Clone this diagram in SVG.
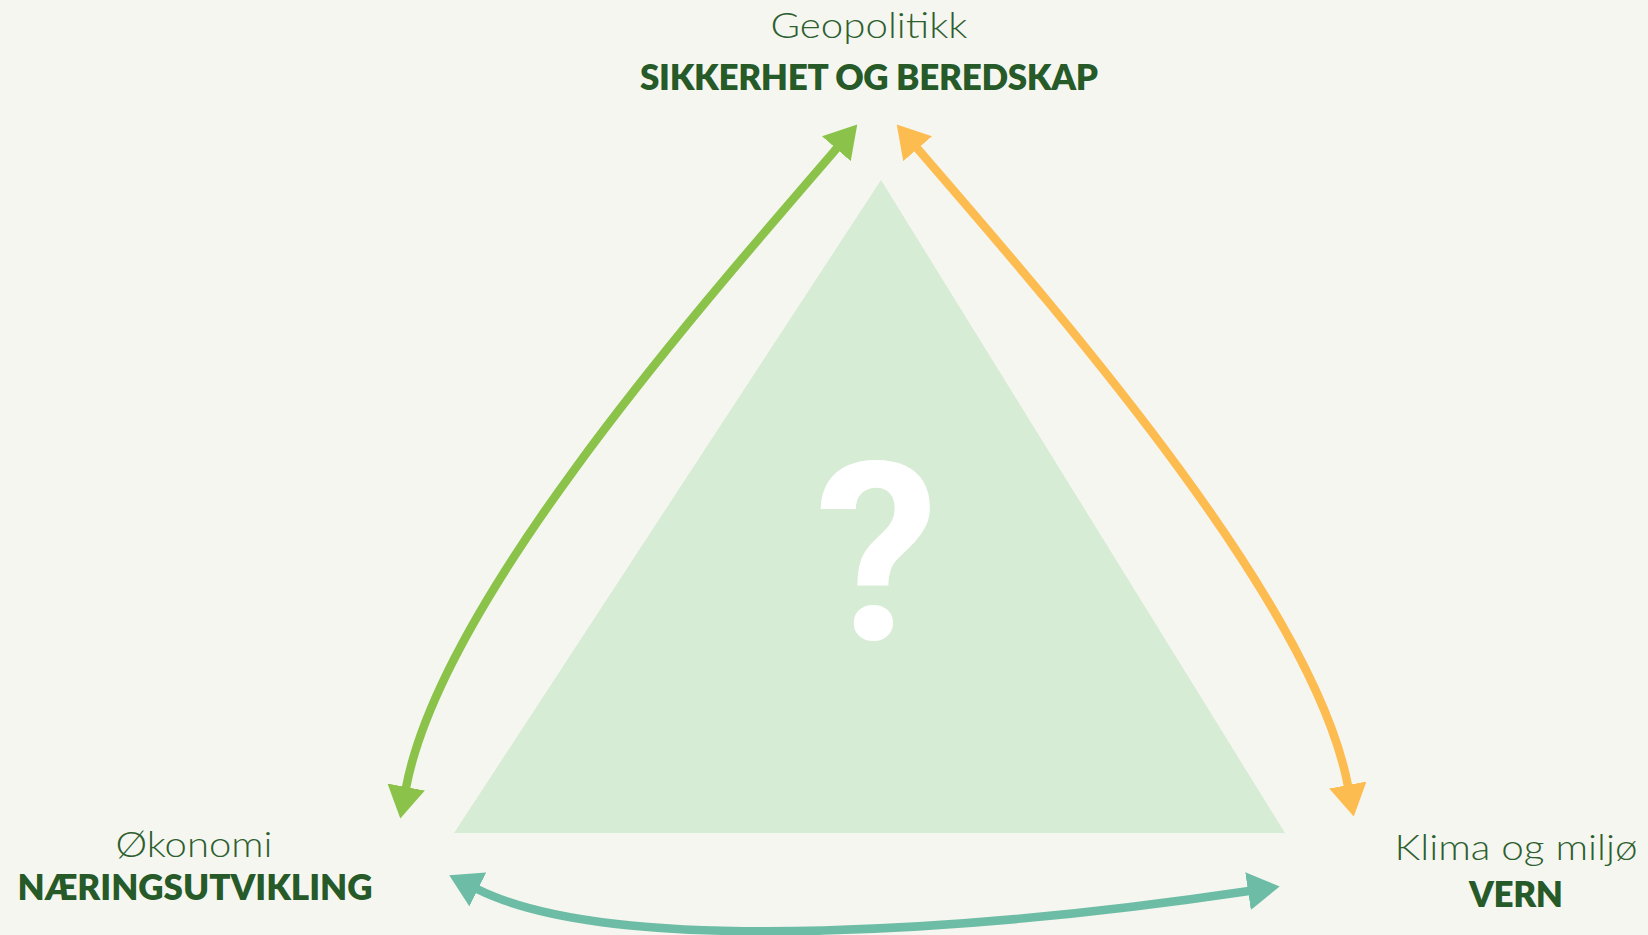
<svg xmlns="http://www.w3.org/2000/svg" width="1648" height="935" viewBox="0 0 1648 935">
<style>
.lt{font-family:Lato,"Open Sans","Liberation Sans",sans-serif;font-weight:300;font-size:35px;fill:#2d5f2f;text-anchor:middle}
.bd{font-family:Lato,"Open Sans","Liberation Sans",sans-serif;font-weight:800;font-size:35px;fill:#265a28;text-anchor:middle}
.arr{fill:none;stroke-width:8.5}
</style>
<defs>
<marker id="mg" viewBox="0 0 32 38" refX="1" refY="19" markerWidth="32" markerHeight="38" markerUnits="userSpaceOnUse" orient="auto-start-reverse"><path d="M0,0 L32,19 L0,38 z" fill="#8bc34a"/></marker>
<marker id="mo" viewBox="0 0 32 38" refX="1" refY="19" markerWidth="32" markerHeight="38" markerUnits="userSpaceOnUse" orient="auto-start-reverse"><path d="M0,0 L32,19 L0,38 z" fill="#fdbc50"/></marker>
<marker id="mt" viewBox="0 0 32 38" refX="1" refY="19" markerWidth="32" markerHeight="38" markerUnits="userSpaceOnUse" orient="auto-start-reverse"><path d="M0,0 L32,19 L0,38 z" fill="#6dbda6"/></marker>
</defs>
<rect x="0" y="0" width="1648" height="935" fill="#f6f6f1"/>
<g id="center">
<polygon points="881,180 1285,833 454,833" fill="#d7ecd4"/>
<text x="877" y="640" font-family="Roboto,Lato,'Liberation Sans',sans-serif" font-weight="700" font-size="248" fill="#ffffff" text-anchor="middle">?</text>
</g>
<g id="top">
<text class="lt" x="869" y="38" textLength="197" lengthAdjust="spacingAndGlyphs">Geopolitikk</text>
<text class="bd" x="869" y="90" textLength="458">SIKKERHET OG BEREDSKAP</text>
</g>
<g id="left">
<text class="lt" x="194" y="857" textLength="157" lengthAdjust="spacingAndGlyphs">Økonomi</text>
<text class="bd" x="195" y="900" textLength="355">NÆRINGSUTVIKLING</text>
</g>
<g id="right">
<text class="lt" x="1516" y="860" textLength="243" lengthAdjust="spacingAndGlyphs">Klima og miljø</text>
<text class="bd" x="1516" y="907" textLength="94">VERN</text>
</g>
<g id="connectors">
<path class="arr" d="M837,148 C684,325 440,606 406,788" stroke="#8bc34a" marker-start="url(#mg)" marker-end="url(#mg)"/>
<path class="arr" d="M917,148 C1070,325 1314,606 1348,786" stroke="#fdbc50" marker-start="url(#mo)" marker-end="url(#mo)"/>
<path class="arr" d="M477,889 C620,960 1000,928 1249,891" stroke="#6dbda6" stroke-width="9.5" marker-start="url(#mt)" marker-end="url(#mt)"/>
</g>
</svg>
